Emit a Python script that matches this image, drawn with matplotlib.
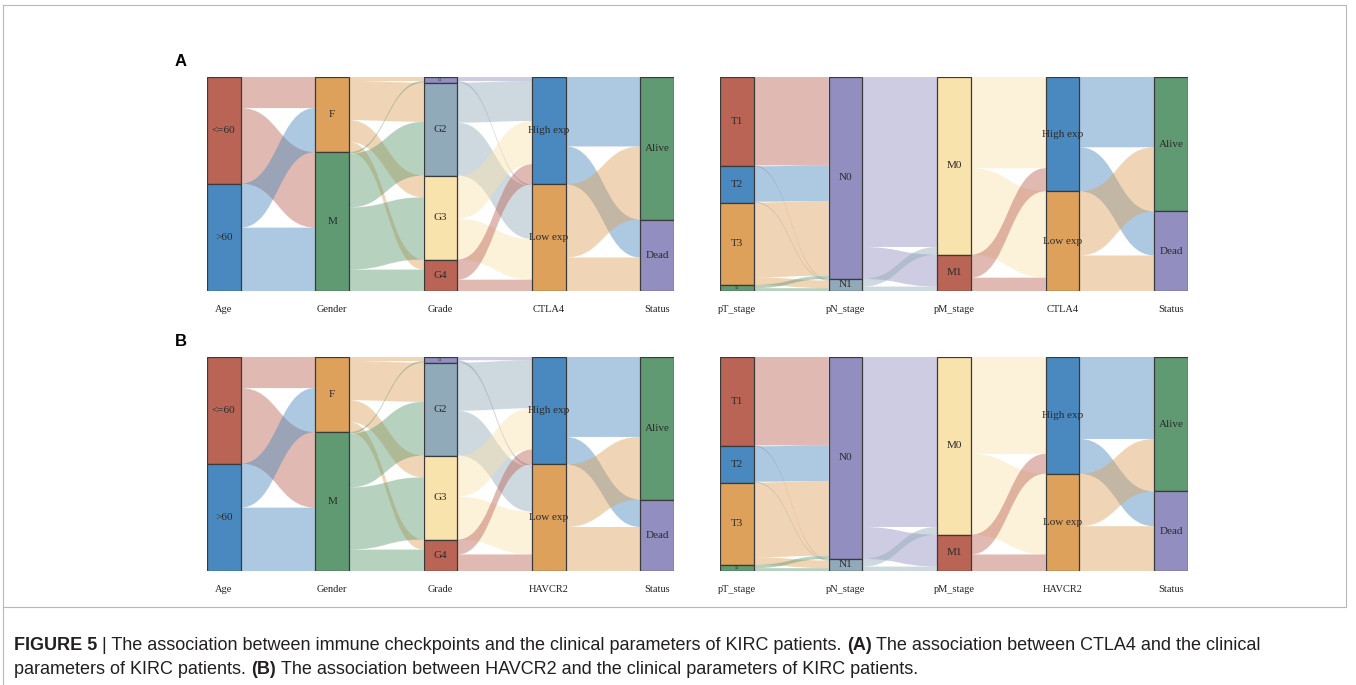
import numpy as np
import matplotlib
matplotlib.use('Agg')
import matplotlib.pyplot as plt
from matplotlib.path import Path
from matplotlib.patches import PathPatch, Rectangle
from matplotlib.lines import Line2D

# palette taken from the figure
RED = '#BA6456'
BLUE = '#4A89BF'
ORANGE = '#DDA15C'
GREEN = '#609A72'
PURPLE = '#928FC0'
SLATE = '#91AABA'
YELLOW = '#F9E3AC'

# strata per axis
age_levels = ['<=60', '>60']
gender_levels = ['F', 'M']
grade_levels = ['G1', 'G2', 'G3', 'G4']
exp_levels = ['High exp', 'Low exp']
status_levels = ['Alive', 'Dead']
pt_levels = ['T1', 'T2', 'T3', 'T4']
pn_levels = ['N0', 'N1']
pm_levels = ['M0', 'M1']

# patient counts flowing between neighbouring axes (rows = left strata, cols = right strata)
age_gender = [[77, 187], [109, 157]]
gender_grade = [[10, 97, 54, 25], [4, 133, 154, 53]]
grade_ctla4 = [[10, 4], [99, 131], [107, 101], [50, 28]]
ctla4_status = [[172, 94], [181, 83]]
grade_havcr2 = [[8, 6], [119, 111], [102, 106], [37, 41]]
havcr2_status = [[198, 68], [155, 109]]

pt_pn = [[219, 2], [88, 2], [185, 19], [8, 7]]
pn_pm = [[421, 79], [19, 11]]
pm_ctla4 = [[226, 214], [57, 33]]
ctla4_status_r = [[174, 109], [159, 88]]
pm_havcr2 = [[240, 200], [49, 41]]
havcr2_status_r = [[203, 86], [130, 111]]

W, H = 1356, 685
fig = plt.figure(figsize=(W / 100, H / 100), dpi=100)
SERIF = 'Liberation Serif'
BW = 0.31


def px_axes(x0, y0, x1, y1):
    return fig.add_axes([x0 / W, 1 - y1 / H, (x1 - x0) / W, (y1 - y0) / H])


def tops_of(counts):
    return np.concatenate([[0], np.cumsum(counts)[:-1]])


def draw_alluvial(ax, names, levels, colors, flows):
    n = len(names)
    totals = [np.array(f).sum(axis=1) for f in flows]
    totals.append(np.array(flows[-1]).sum(axis=0))
    N = totals[0].sum()

    for k, fm in enumerate(flows):
        fm = np.array(fm, dtype=float)
        lt = tops_of(totals[k])
        rt = tops_of(totals[k + 1])
        x0 = k + BW / 2
        x1 = k + 1 - BW / 2
        xm = (x0 + x1) / 2
        for i in range(fm.shape[0]):
            for j in range(fm.shape[1]):
                v = fm[i, j]
                if v <= 0:
                    continue
                a0 = lt[i] + fm[i, :j].sum()
                a1 = rt[j] + fm[:i, j].sum()
                b0, b1 = a0 + v, a1 + v
                verts = [(x0, a0), (xm, a0), (xm, a1), (x1, a1),
                         (x1, b1), (xm, b1), (xm, b0), (x0, b0), (x0, a0)]
                codes = [Path.MOVETO, Path.CURVE4, Path.CURVE4, Path.CURVE4,
                         Path.LINETO, Path.CURVE4, Path.CURVE4, Path.CURVE4,
                         Path.CLOSEPOLY]
                ax.add_patch(PathPatch(Path(verts, codes), facecolor=colors[k][i],
                                       edgecolor='none', alpha=0.45, zorder=1))

    for k in range(n):
        tops = tops_of(totals[k])
        for s, (lab, c) in enumerate(zip(levels[k], colors[k])):
            h = totals[k][s]
            ax.add_patch(Rectangle((k - BW / 2, tops[s]), BW, h, facecolor=c,
                                   edgecolor='#3a3a3a', linewidth=0.9, zorder=3))
            fs = 8 if h > 25 else 2.5
            ax.text(k, tops[s] + h / 2, lab, ha='center', va='center', fontsize=fs,
                    family=SERIF, color='#2b2b2b', zorder=4)

    ax.set_xlim(-BW / 2, n - 1 + BW / 2)
    ax.set_ylim(N, 0)
    ax.set_xticks(range(n))
    ax.set_xticklabels(names, family=SERIF, fontsize=7.5, color='#222222')
    ax.tick_params(axis='x', length=0, pad=10)
    ax.set_yticks([])
    for sp in ax.spines.values():
        sp.set_visible(False)
    ax.patch.set_alpha(0)


clin_colors = [[RED, BLUE], [ORANGE, GREEN], [PURPLE, SLATE, YELLOW, RED], [BLUE, ORANGE], [GREEN, PURPLE]]
stage_colors = [[RED, BLUE, ORANGE, GREEN], [PURPLE, SLATE], [YELLOW, RED], [BLUE, ORANGE], [GREEN, PURPLE]]
clin_levels = [age_levels, gender_levels, grade_levels, exp_levels, status_levels]
stage_levels = [pt_levels, pn_levels, pm_levels, exp_levels, status_levels]

# panel A
draw_alluvial(px_axes(207, 77, 674, 291), ['Age', 'Gender', 'Grade', 'CTLA4', 'Status'],
              clin_levels, clin_colors, [age_gender, gender_grade, grade_ctla4, ctla4_status])
draw_alluvial(px_axes(720, 77, 1188, 291), ['pT_stage', 'pN_stage', 'pM_stage', 'CTLA4', 'Status'],
              stage_levels, stage_colors, [pt_pn, pn_pm, pm_ctla4, ctla4_status_r])
# panel B
draw_alluvial(px_axes(207, 357, 674, 571), ['Age', 'Gender', 'Grade', 'HAVCR2', 'Status'],
              clin_levels, clin_colors, [age_gender, gender_grade, grade_havcr2, havcr2_status])
draw_alluvial(px_axes(720, 357, 1188, 571), ['pT_stage', 'pN_stage', 'pM_stage', 'HAVCR2', 'Status'],
              stage_levels, stage_colors, [pt_pn, pn_pm, pm_havcr2, havcr2_status_r])

fig.text(175 / W, 1 - 62 / H, 'A', fontsize=12, fontweight='bold', family='Liberation Sans',
         va='center', ha='left')
fig.text(175 / W, 1 - 342 / H, 'B', fontsize=12, fontweight='bold', family='Liberation Sans',
         va='center', ha='left')

# frame around the figure
frame_kw = dict(color='#b8b8b8', linewidth=0.8, transform=fig.transFigure)
fig.add_artist(Line2D([3 / W, 1346 / W], [1 - 5 / H, 1 - 5 / H], **frame_kw))
fig.add_artist(Line2D([3 / W, 1346 / W], [1 - 607 / H, 1 - 607 / H], **frame_kw))
fig.add_artist(Line2D([1346 / W, 1346 / W], [1 - 5 / H, 1 - 607 / H], **frame_kw))
fig.add_artist(Line2D([3 / W, 3 / W], [1 - 5 / H, 0], **frame_kw))

# caption, mixed bold / regular runs
renderer = fig.canvas.get_renderer()
CAP_FS = 13


def cap_width(s, weight):
    t = fig.text(0, 0, s, fontsize=CAP_FS, family='Liberation Sans', fontweight=weight)
    w = t.get_window_extent(renderer).width
    t.remove()
    return w


space_w = cap_width('a a', 'normal') - cap_width('aa', 'normal')


def caption_line(runs, x_px, y_px):
    x = x_px
    for s, bold in runs:
        wt = 'bold' if bold else 'normal'
        t = fig.text(x / W, 1 - y_px / H, s, fontsize=CAP_FS, family='Liberation Sans',
                     fontweight=wt, color='#231f20', va='baseline', ha='left')
        x += t.get_window_extent(renderer).width + space_w


caption_line([('FIGURE 5', True),
              ('| The association between immune checkpoints and the clinical parameters of KIRC patients.', False),
              ('(A)', True),
              ('The association between CTLA4 and the clinical', False)], 14, 650)
caption_line([('parameters of KIRC patients.', False),
              ('(B)', True),
              ('The association between HAVCR2 and the clinical parameters of KIRC patients.', False)], 14, 674)

fig.savefig('out.png', dpi=100)
